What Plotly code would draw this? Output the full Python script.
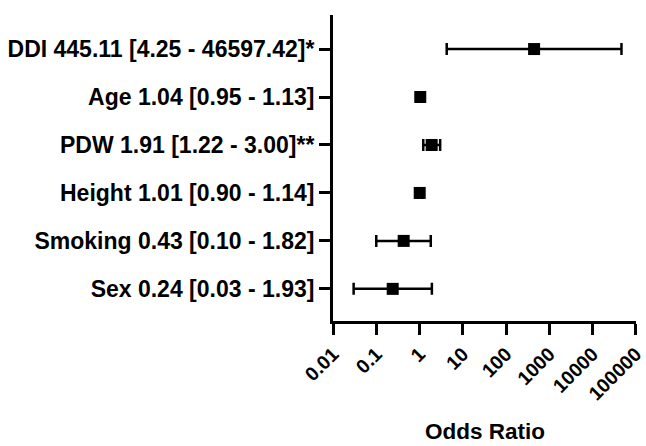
import plotly.graph_objects as go

# Data (bottom to top)
variables = ["Sex", "Smoking", "Height", "PDW", "Age", "DDI"]
odds_ratio = [0.24, 0.43, 1.01, 1.91, 1.04, 445.11]
ci_low = [0.03, 0.10, 0.90, 1.22, 0.95, 4.25]
ci_high = [1.93, 1.82, 1.14, 3.00, 1.13, 46597.42]
stars = ["", "", "", "**", "", "*"]
x_tick_vals = [0.01, 0.1, 1, 10, 100, 1000, 10000, 100000]
x_tick_text = ["0.01", "0.1", "1", "10", "100", "1000", "10000", "100000"]

labels = [f"{v} {o:.2f} [{lo:.2f} - {hi:.2f}]{s}"
          for v, o, lo, hi, s in zip(variables, odds_ratio, ci_low, ci_high, stars)]

err_plus = [hi - o for o, hi in zip(odds_ratio, ci_high)]
err_minus = [o - lo for o, lo in zip(odds_ratio, ci_low)]

FONT = "Liberation Sans, Arial, sans-serif"

fig = go.Figure()
fig.add_trace(go.Scatter(
    x=odds_ratio, y=labels, mode="markers",
    marker=dict(symbol="square", size=12, color="black"),
    error_x=dict(type="data", array=err_plus, arrayminus=err_minus,
                 color="black", thickness=2.5, width=6, symmetric=False),
    showlegend=False,
))

fig.update_layout(
    width=646, height=446,
    margin=dict(l=333, r=10, t=15, b=125),
    paper_bgcolor="white", plot_bgcolor="white",
    font=dict(family=FONT, color="black"),
    xaxis=dict(
        type="log", range=[-2, 5.004], automargin=False,
        tickvals=x_tick_vals, ticktext=x_tick_text,
        tickangle=-45, ticks="outside", ticklen=11, tickwidth=2.5, tickcolor="black",
        ticklabeloverflow="allow",
        showline=True, linewidth=3, linecolor="black",
        showgrid=False, zeroline=False,
        tickfont=dict(family=FONT, size=19.5, color="black", weight="bold"),
    ),
    yaxis=dict(
        type="category", categoryorder="array", categoryarray=labels,
        range=[-0.67, 5.71], automargin=False,
        ticks="outside", ticklen=11, tickwidth=2.5, tickcolor="black",
        showline=True, linewidth=3, linecolor="black",
        showgrid=False, zeroline=False,
        tickfont=dict(family=FONT, size=23, color="black", weight="bold"),
    ),
    annotations=[dict(
        text="<b>Odds Ratio</b>", xref="paper", yref="paper",
        x=0.5, y=-(446 - 321) / 306, xanchor="center", yanchor="bottom",
        showarrow=False, font=dict(family=FONT, size=22.5, color="black"),
    )],
)

fig.write_html("out.html")
